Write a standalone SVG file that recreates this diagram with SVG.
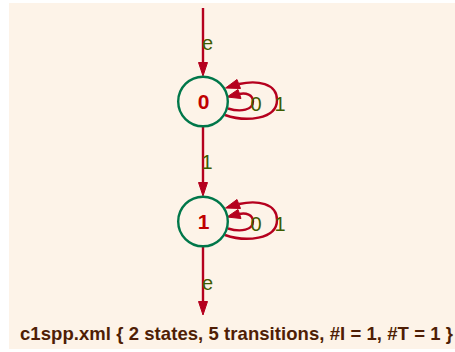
<svg xmlns="http://www.w3.org/2000/svg" width="455" height="352" viewBox="0 0 455 352">
<style>
.edge{fill:none;stroke:#b5001e;stroke-width:2.4}
.ah{fill:#b5001e;stroke:#b5001e;stroke-width:1}
.node{fill:none;stroke:#00774a;stroke-width:2.4}
.nl{font-family:"Liberation Sans",Arial,sans-serif;font-weight:bold;font-size:21px;fill:#c00000;text-anchor:middle}
.el{font-family:"Liberation Sans",Arial,sans-serif;font-size:20px;fill:#3d5c00}
.title{font-family:"Liberation Sans",Arial,sans-serif;font-weight:bold;font-size:18.5px;fill:#4f1e05}
</style>
<rect x="9" y="3" width="446" height="346" fill="#fdf3e8"/>
<g id="connectors">
  <g id="e-init">
    <path class="edge" d="M203,8 L203,63"/>
    <polygon class="ah" points="198.5,62.5 207.5,62.5 203,76"/>
    <text class="el" x="202" y="50">e</text>
  </g>
  <g id="e-0-0-0">
    <path class="edge" d="M228,108.5 C241,112.5 253,110 253,101.5 C253,94.5 246,92.5 239,94"/>
    <polygon class="ah" points="238,89.5 241,98.5 227,97"/>
    <text class="el" x="250.5" y="110.5">0</text>
  </g>
  <g id="e-0-0-1">
    <path class="edge" d="M225,115 C245,122 277,120 277,100 C277,83 257,80 239,84"/>
    <polygon class="ah" points="237,79.5 240.5,88.5 225.5,88"/>
    <text class="el" x="274.5" y="110.5">1</text>
  </g>
  <g id="e-0-1">
    <path class="edge" d="M203,127 L203,183"/>
    <polygon class="ah" points="198.5,182.5 207.5,182.5 203,196"/>
    <text class="el" x="201.5" y="169">1</text>
  </g>
  <g id="e-1-1-0">
    <path class="edge" d="M228,228.5 C241,232.5 253,230 253,221.5 C253,214.5 246,212.5 239,214"/>
    <polygon class="ah" points="238,209.5 241,218.5 227,217"/>
    <text class="el" x="250.5" y="230.5">0</text>
  </g>
  <g id="e-1-1-1">
    <path class="edge" d="M225,235 C245,242 277,240 277,220 C277,203 257,200 239,204"/>
    <polygon class="ah" points="237,199.5 240.5,208.5 225.5,208"/>
    <text class="el" x="274.5" y="230.5">1</text>
  </g>
  <g id="e-final">
    <path class="edge" d="M203,247 L203,302"/>
    <polygon class="ah" points="198.5,301.5 207.5,301.5 203,315"/>
    <text class="el" x="202" y="290">e</text>
  </g>
</g>
<g id="node-0">
  <circle class="node" cx="203" cy="101.5" r="24.8"/>
  <text class="nl" x="203.5" y="109">0</text>
</g>
<g id="node-1">
  <circle class="node" cx="203" cy="221.5" r="24.8"/>
  <text class="nl" x="203.5" y="229">1</text>
</g>
<g id="title">
  <text class="title" x="20" y="340" textLength="433" lengthAdjust="spacing">c1spp.xml { 2 states, 5 transitions, #I = 1, #T = 1 }</text>
</g>
</svg>
